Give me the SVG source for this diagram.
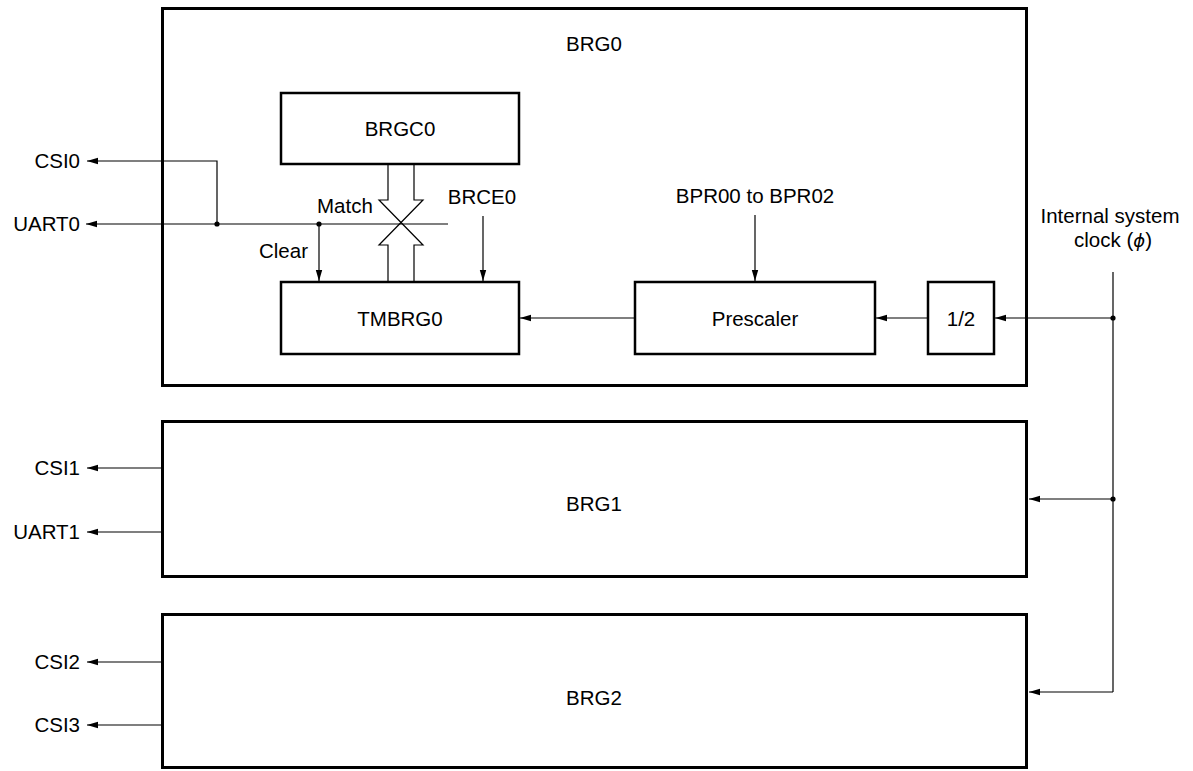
<svg xmlns="http://www.w3.org/2000/svg" width="1193" height="771" viewBox="0 0 1193 771">
<style>
.box{fill:#fff;stroke:#000;stroke-width:3}
.ibox{fill:none;stroke:#000;stroke-width:2.5}
.ln{fill:none;stroke:#000;stroke-width:1.2}
.t{font-family:"Liberation Sans",Arial,sans-serif;font-size:20.5px;fill:#000}
.m{text-anchor:middle}
.e{text-anchor:end}
.dot{fill:#000}
</style>
<defs>
<marker id="ah" markerUnits="userSpaceOnUse" markerWidth="12" markerHeight="8" refX="11" refY="4" orient="auto">
<path d="M0,0.8 L11,4 L0,7.2 z" fill="#000"/>
</marker>
</defs>
<rect width="1193" height="771" fill="#fff"/>
<g id="BRG0">
<rect class="box" x="162.5" y="8.5" width="864" height="377"/>
<text class="t m" x="594" y="51">BRG0</text>
</g>
<g id="BRG1">
<rect class="box" x="162.5" y="421.5" width="864" height="155"/>
<text class="t m" x="594" y="511">BRG1</text>
</g>
<g id="BRG2">
<rect class="box" x="162.5" y="614.5" width="864" height="153"/>
<text class="t m" x="594" y="705">BRG2</text>
</g>
<g id="BRGC0">
<rect class="ibox" x="281" y="93" width="238" height="71"/>
<text class="t m" x="400" y="136">BRGC0</text>
</g>
<g id="TMBRG0">
<rect class="ibox" x="281" y="282" width="238" height="72"/>
<text class="t m" x="400" y="326">TMBRG0</text>
</g>
<g id="Prescaler">
<rect class="ibox" x="635" y="282" width="240" height="72"/>
<text class="t m" x="755" y="326">Prescaler</text>
</g>
<g id="Div2">
<rect class="ibox" x="928" y="282" width="66" height="72"/>
<text class="t m" x="961" y="326">1/2</text>
</g>
<g id="labels">
<text class="t e" x="80" y="168">CSI0</text>
<text class="t e" x="80" y="231">UART0</text>
<text class="t e" x="80" y="475">CSI1</text>
<text class="t e" x="80" y="539">UART1</text>
<text class="t e" x="80" y="669">CSI2</text>
<text class="t e" x="80" y="732">CSI3</text>
<text class="t" x="317" y="213">Match</text>
<text class="t e" x="308" y="258">Clear</text>
<text class="t m" x="482" y="204">BRCE0</text>
<text class="t m" x="755" y="203">BPR00 to BPR02</text>
<text class="t m" x="1110" y="223">Internal system</text>
<text class="t m" x="1113" y="247">clock (<tspan font-family="DejaVu Sans" font-style="italic" font-size="18">ϕ</tspan>)</text>
</g>
<g id="connectors">
<path class="ln" d="M217,224 V161 H87" marker-end="url(#ah)"/>
<path class="ln" d="M448,224 H86" marker-end="url(#ah)"/>
<path class="ln" d="M319,224 V281" marker-end="url(#ah)"/>
<path class="ln" d="M483,216 V281" marker-end="url(#ah)"/>
<path class="ln" d="M755,215 V281" marker-end="url(#ah)"/>
<path class="ln" d="M635,318 H520" marker-end="url(#ah)"/>
<path class="ln" d="M928,318 H876" marker-end="url(#ah)"/>
<path class="ln" d="M1113,318 H995" marker-end="url(#ah)"/>
<path class="ln" d="M1113,272 V692"/>
<path class="ln" d="M1113,499 H1029" marker-end="url(#ah)"/>
<path class="ln" d="M1113,692 H1029" marker-end="url(#ah)"/>
<path class="ln" d="M162,468 H87" marker-end="url(#ah)"/>
<path class="ln" d="M162,532 H87" marker-end="url(#ah)"/>
<path class="ln" d="M162,662 H87" marker-end="url(#ah)"/>
<path class="ln" d="M162,725 H87" marker-end="url(#ah)"/>
<path class="ln" d="M388,164 V200 H379 L423,245 H414 V282"/>
<path class="ln" d="M414,164 V200 H423 L379,245 H388 V282"/>
<circle class="dot" cx="217" cy="224" r="2.6"/>
<circle class="dot" cx="319" cy="224" r="2.6"/>
<circle class="dot" cx="1113" cy="318" r="2.6"/>
<circle class="dot" cx="1113" cy="499" r="2.6"/>
</g>
</svg>
